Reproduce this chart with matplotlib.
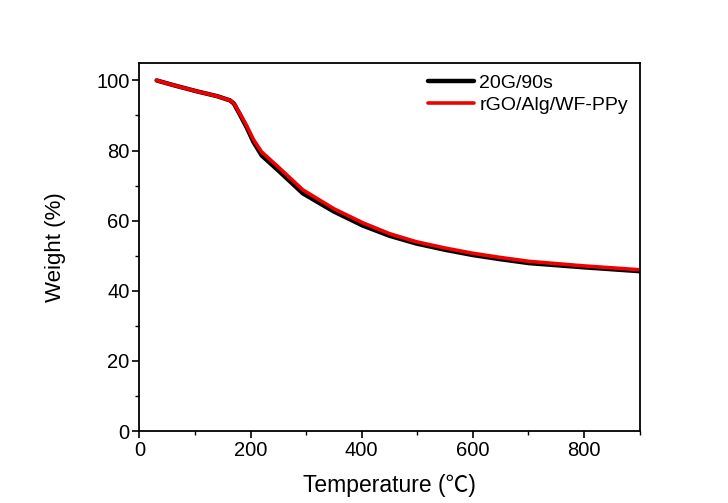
import matplotlib
matplotlib.use("Agg")
import matplotlib.pyplot as plt
from matplotlib.ticker import MultipleLocator

plt.rcParams['font.family'] = ['Liberation Sans', 'Noto Sans CJK SC', 'DejaVu Sans']

# Data
temp_black = [31, 60, 103, 140, 163, 170, 180, 193, 205, 220, 250, 294, 350, 402, 450, 498, 550, 600, 650, 701, 800, 900]
weight_black = [100, 98.7, 96.9, 95.5, 94.3, 93.4, 90.5, 86.6, 82.5, 78.6, 74.3, 67.8, 62.6, 58.6, 55.7, 53.5, 51.7, 50.2, 49.0, 47.9, 46.7, 45.6]
temp_red = [31, 60, 103, 140, 163, 170, 180, 193, 205, 220, 250, 294, 350, 402, 450, 498, 550, 600, 650, 701, 800, 900]
weight_red = [100, 98.7, 96.9, 95.5, 94.3, 93.5, 90.8, 87.1, 83.2, 79.6, 75.3, 68.8, 63.4, 59.4, 56.3, 54.0, 52.2, 50.7, 49.5, 48.4, 47.1, 46.0]

labels = ["20G/90s", "rGO/Alg/WF-PPy"]

fig = plt.figure(figsize=(7.28, 5.03), dpi=100)
ax = fig.add_axes([0.1915, 0.143, 0.687, 0.732])

ax.plot(temp_black, weight_black, color='black', lw=3.2, label=labels[0], solid_capstyle='round')
ax.plot(temp_red, weight_red, color='#f00000', lw=2.6, label=labels[1], solid_capstyle='round')

ax.set_xlim(0, 900)
ax.set_ylim(0, 105)
ax.xaxis.set_major_locator(MultipleLocator(200))
ax.xaxis.set_minor_locator(MultipleLocator(100))
ax.yaxis.set_major_locator(MultipleLocator(20))
ax.yaxis.set_minor_locator(MultipleLocator(10))
ax.tick_params(which='major', direction='out', length=5, width=1.2, labelsize=14.5, pad=2)
ax.tick_params(which='minor', direction='out', length=3, width=1.0)
ax.tick_params(top=False, right=False)
for s in ax.spines.values():
    s.set_linewidth(1.3)

ax.set_xlabel("Temperature (℃)", fontsize=16.5, labelpad=10)
ax.set_ylabel("Weight (%)", fontsize=16, labelpad=22)

ax.legend(loc='upper right', frameon=False, fontsize=14, handlelength=2.4,
          handletextpad=0.25, labelspacing=0.2, borderaxespad=0.2,
          bbox_to_anchor=(1.0, 1.0))

fig.savefig("out.png", dpi=100)
